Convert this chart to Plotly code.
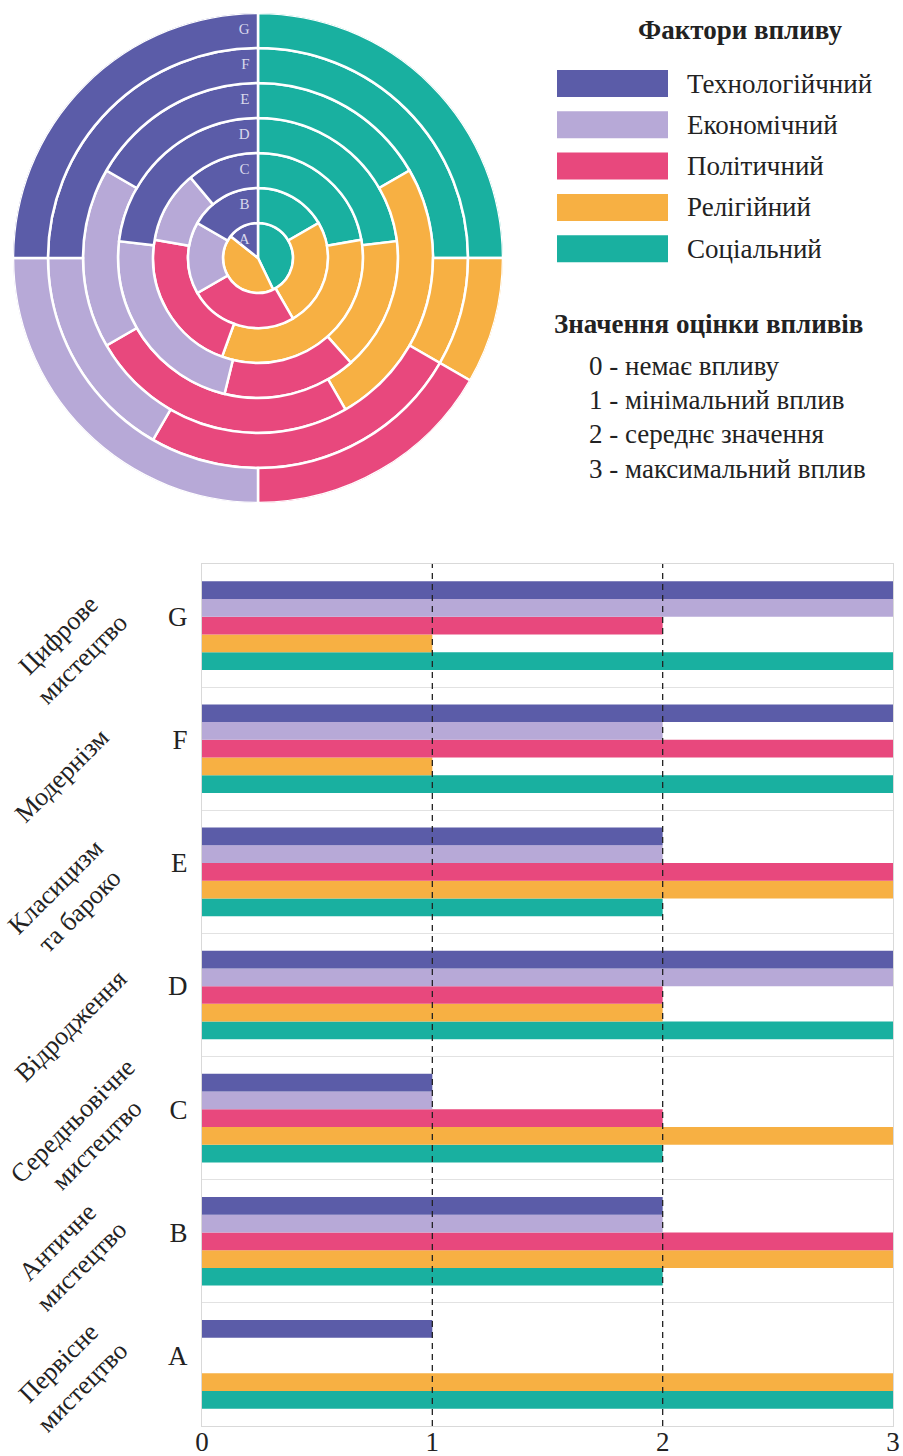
import numpy as np
import plotly.graph_objects as go

# ---------------- data ----------------
periods = ['A', 'B', 'C', 'D', 'E', 'F', 'G']
period_names = ['Первісне<br>мистецтво', 'Античне<br>мистецтво', 'Середньовічне<br>мистецтво',
                'Відродження', 'Класицизм<br>та бароко', 'Модернізм', 'Цифрове<br>мистецтво']
factors = ['Технологійчний', 'Економічний', 'Політичний', 'Релігійний', 'Соціальний']
colors = ['#5b5ca8', '#b7a9d7', '#e8487d', '#f7b043', '#19b0a0']
tech = [1, 2, 1, 3, 2, 3, 3]
econ = [0, 2, 1, 3, 2, 2, 3]
pol = [0, 3, 2, 2, 3, 3, 2]
rel = [3, 3, 3, 2, 3, 1, 1]
soc = [3, 2, 2, 3, 2, 3, 3]
score_labels = ['0 - немає впливу', '1 - мінімальний вплив', '2 - середнє значення', '3 - максимальний вплив']
legend_title = 'Фактори впливу'
score_title = 'Значення оцінки впливів'
x_ticks = [0, 1, 2, 3]
ref_lines = [1, 2]

# layout-only placement of the rotated period names (pixels)
name_x = [70, 69, 84, 70, 68, 62, 70]
name_shift = [-11, -13, -15, -31, -27, -27, -22]

FONT = 'Liberation Serif'
TXT = '#222222'
W, H = 903, 1456
series = np.array([tech, econ, pol, rel, soc], dtype=float)


def px_x(v):
    return v / W


def px_y(v):
    return 1 - v / H


fig = go.Figure()

# ---------------- polar rings ----------------
totals = series.sum(axis=0)
cum = np.zeros(len(periods))
for k in [4, 3, 2, 1, 0]:  # clockwise from top: social, religious, political, economic, tech
    span = series[k] / totals * 360.0
    centre = cum + span / 2
    cum = cum + span
    mask = series[k] > 0
    fig.add_trace(go.Barpolar(
        r=np.ones(mask.sum()), base=np.arange(len(periods))[mask],
        theta=centre[mask], width=span[mask],
        marker=dict(color=colors[k], line=dict(color='white', width=2.5)),
        showlegend=False, hoverinfo='skip', subplot='polar'))

fig.add_trace(go.Scatterpolar(
    r=np.arange(len(periods)) + 0.5, theta=np.zeros(len(periods)), mode='markers+text',
    marker=dict(size=12, color='rgba(0,0,0,0)'),
    text=periods, textposition='middle left',
    textfont=dict(family=FONT, size=15, color='#d8d8ec'),
    showlegend=False, hoverinfo='skip', subplot='polar'))

# ---------------- horizontal grouped bars ----------------
for k in [4, 3, 2, 1, 0]:
    fig.add_trace(go.Bar(
        y=periods, x=series[k], orientation='h', name=factors[k],
        marker=dict(color=colors[k], line=dict(width=0)),
        showlegend=False, xaxis='x', yaxis='y'))

shapes = []
for v in ref_lines:
    shapes.append(dict(type='line', xref='x', yref='y domain', x0=v, x1=v, y0=0, y1=1,
                       line=dict(color='#222222', width=1.3, dash='6px,5px'), layer='above'))

annotations = []
for p, name, nx, ns in zip(periods, period_names, name_x, name_shift):
    annotations.append(dict(xref='paper', yref='y', x=px_x(nx), y=p, yshift=ns,
                            xanchor='center', yanchor='middle',
                            text=name, showarrow=False, textangle=-45,
                            font=dict(family=FONT, size=26, color=TXT)))

# ---------------- legend (drawn) ----------------
annotations.append(dict(xref='paper', yref='paper', x=px_x(740), y=px_y(30), text='<b>' + legend_title + '</b>',
                        showarrow=False, xanchor='center', yanchor='middle',
                        font=dict(family=FONT, size=27, color=TXT)))
for i, (f, c) in enumerate(zip(factors, colors)):
    top = 70 + 41.3 * i
    shapes.append(dict(type='rect', xref='paper', yref='paper', x0=px_x(557), x1=px_x(668),
                       y0=px_y(top + 27), y1=px_y(top), fillcolor=c, line=dict(width=0)))
    annotations.append(dict(xref='paper', yref='paper', x=px_x(685), y=px_y(top + 13.5), text=f,
                            showarrow=False, xanchor='left', yanchor='middle',
                            font=dict(family=FONT, size=27, color=TXT)))
annotations.append(dict(xref='paper', yref='paper', x=px_x(552), y=px_y(324), text='<b>' + score_title + '</b>',
                        showarrow=False, xanchor='left', yanchor='middle',
                        font=dict(family=FONT, size=27, color=TXT)))
for i, s in enumerate(score_labels):
    annotations.append(dict(xref='paper', yref='paper', x=px_x(587), y=px_y(366 + 34.2 * i), text=s,
                            showarrow=False, xanchor='left', yanchor='middle',
                            font=dict(family=FONT, size=27, color=TXT)))

fig.update_layout(
    width=W, height=H, margin=dict(l=0, r=0, t=0, b=0),
    paper_bgcolor='white', plot_bgcolor='white',
    font=dict(family=FONT, color=TXT),
    barmode='group', bargap=0.28, bargroupgap=0,
    polar=dict(domain=dict(x=[px_x(13), px_x(503)], y=[px_y(503), px_y(13)]),
               hole=0, bgcolor='white',
               radialaxis=dict(range=[0, len(periods)], visible=False),
               angularaxis=dict(visible=False, rotation=90, direction='clockwise')),
    xaxis=dict(domain=[px_x(202), px_x(893)], range=[0, 3], autorange=False, tickvals=x_ticks,
               showgrid=False, zeroline=False, showline=True, linecolor='#d9d9d9', mirror=True,
               ticks='', ticklabelstandoff=-8,
               tickfont=dict(family=FONT, size=27, color=TXT), anchor='y',
               fixedrange=True, automargin=False),
    yaxis=dict(domain=[px_y(1426), px_y(564)], type='category', categoryorder='array',
               categoryarray=periods, range=[-0.5, len(periods) - 0.5], autorange=False,
               tickson='boundaries', showgrid=True, gridcolor='#e2e2e2',
               showline=True, linecolor='#d9d9d9', mirror=True, ticks='', ticklabelstandoff=8,
               ticklabelshift=-9,
               tickfont=dict(family=FONT, size=27, color=TXT), anchor='x',
               fixedrange=True, automargin=False),
    shapes=shapes, annotations=annotations,
)

fig.write_html("out.html", config={'displayModeBar': False},
               post_script="document.body.style.margin='0px';")
